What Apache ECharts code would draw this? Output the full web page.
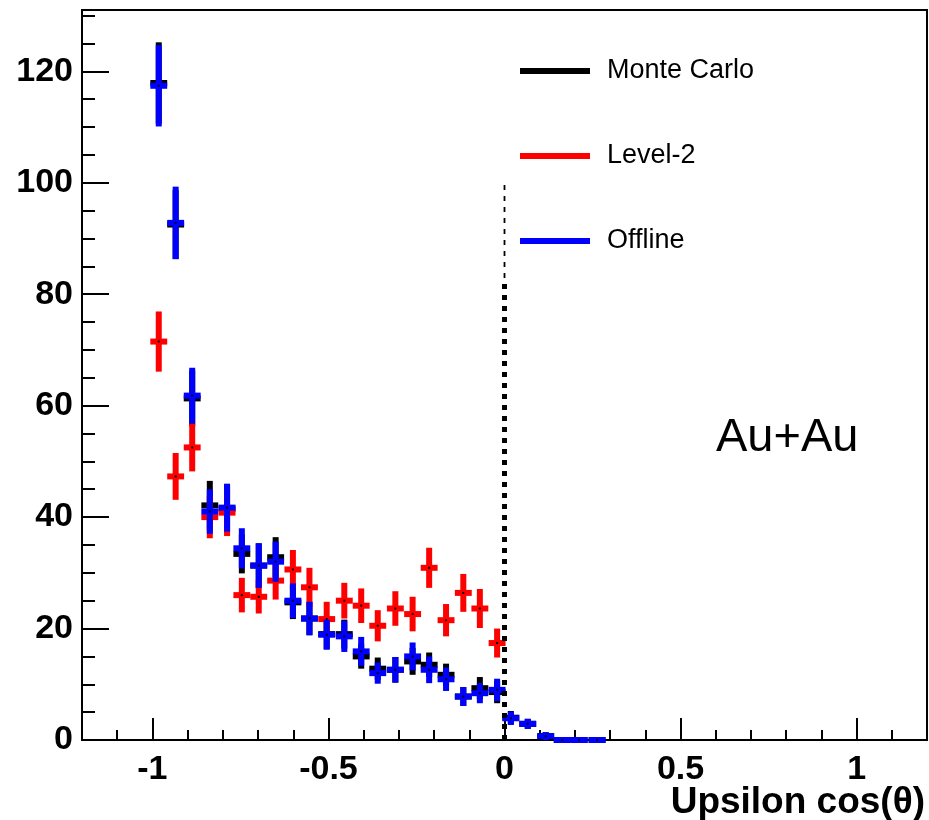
<!DOCTYPE html>
<html>
<head>
<meta charset="utf-8">
<script src="https://cdn.jsdelivr.net/npm/echarts@6/dist/echarts.min.js"></script>
<style>
html,body{margin:0;padding:0;background:#fff;}
#chart{width:929px;height:820px;}
</style>
</head>
<body>
<div id="chart"></div>
<script>
// Bin centres (Upsilon cos(theta))
const xCenters = [-0.982, -0.934, -0.887, -0.837, -0.788, -0.746, -0.698, -0.650, -0.601, -0.554,
                  -0.505, -0.455, -0.407, -0.360, -0.310, -0.261, -0.214, -0.166, -0.117, -0.070,
                  -0.021, 0.018, 0.066, 0.117, 0.164, 0.212, 0.263];

// Monte Carlo (black)
const mcValues = [117.9, 92.5, 61.3, 42.1, 41.5, 33.4, 31.3, 32.8, 24.7, 21.8,
                  19.0, 19.0, 15.0, 12.8, 12.6, 14.1, 13.5, 11.7, 7.8, 9.3,
                  8.6, 4.0, 2.9, 0.7, 0, 0, 0];
const mcErrors = [7.3, 6.2, 5.0, 4.4, 4.3, 3.5, 4.0, 3.6, 3.0, 3.0,
                  2.7, 2.6, 2.2, 2.0, 2.3, 2.4, 2.2, 2.0, 1.7, 2.0,
                  2.0, 1.2, 0.9, 0.7, 0, 0, 0];

// Level-2 (red)
const l2Values = [71.5, 47.3, 52.5, 40.0, 40.8, 26.0, 25.7, 28.6, 30.6, 27.4,
                  21.7, 25.0, 24.1, 20.5, 23.6, 22.6, 30.9, 21.5, 26.4, 23.6, 17.4];
const l2Errors = [5.4, 4.2, 4.3, 3.8, 4.2, 3.1, 3.0, 3.4, 3.5, 3.5,
                  3.1, 3.2, 3.1, 2.8, 3.1, 3.1, 3.6, 2.9, 3.4, 3.5, 2.6];

// Offline (blue)
const offValues = [117.4, 92.8, 61.8, 41.0, 41.7, 34.4, 31.3, 32.0, 25.0, 21.8,
                   18.9, 18.6, 15.9, 12.0, 12.6, 15.0, 12.6, 10.9, 7.8, 8.4,
                   9.0, 3.9, 2.9, 0.7, 0, 0, 0];
const offErrors = [7.3, 6.5, 5.0, 4.0, 4.3, 3.6, 4.0, 3.6, 3.1, 3.0,
                   2.7, 2.8, 2.6, 1.9, 2.3, 2.5, 2.4, 2.1, 1.7, 1.8,
                   2.0, 1.2, 0.9, 0.7, 0, 0, 0];

// Vertical reference line at cos(theta) = 0
const cutX = 0;
const cutThinTop = 100;
const cutThickTop = 82;

// Axis ticks
const xMajorTicks = [-1, -0.5, 0, 0.5, 1];
const xMinorTicks = [-1.1, -0.9, -0.8, -0.7, -0.6, -0.4, -0.3, -0.2, -0.1,
                     0.1, 0.2, 0.3, 0.4, 0.6, 0.7, 0.8, 0.9, 1.1];
const yMajorTicks = [0, 20, 40, 60, 80, 100, 120];
const yMinorTicks = [5, 10, 15, 25, 30, 35, 45, 50, 55, 65, 70, 75, 85, 90, 95,
                     105, 110, 115, 125, 130];

const seriesNames = ['Monte Carlo', 'Level-2', 'Offline'];
const seriesColors = ['#000000', '#ff0000', '#0000ff'];

const binHalfWidth = 0.024;
const FONT = 'Liberation Sans, Arial, Helvetica, sans-serif';

function toData(vals, errs) {
  return vals.map((v, i) => [xCenters[i], v, errs[i]]);
}

function makeRender(color) {
  return function (params, api) {
    const x = api.value(0), y = api.value(1), e = api.value(2);
    const c = api.coord([x, y]);
    const top = api.coord([x, y + e]);
    const bot = api.coord([x, Math.max(0, y - e)]);
    const l = api.coord([x - binHalfWidth, y]);
    const r = api.coord([x + binHalfWidth, y]);
    const children = [];
    if (e > 0) {
      children.push({type: 'line', shape: {x1: c[0], y1: top[1], x2: c[0], y2: bot[1]},
        style: {stroke: color, lineWidth: 6, lineCap: 'butt'}});
    }
    children.push({type: 'line', shape: {x1: l[0], y1: c[1], x2: r[0], y2: c[1]},
      style: {stroke: color, lineWidth: 6, lineCap: 'butt'}});
    children.push({type: 'rect', shape: {x: c[0] - 1, y: c[1] - 1, width: 2, height: 2},
      style: {fill: '#000'}});
    return {type: 'group', children: children};
  };
}

const chart = echarts.init(document.getElementById('chart'), null, {renderer: 'canvas'});

const option = {
  backgroundColor: '#fff',
  animation: false,
  title: {
    text: 'Au+Au', left: 716, top: 415, padding: 0,
    textStyle: {fontSize: 47, fontWeight: 'normal', color: '#000', fontFamily: FONT}
  },
  legend: {
    orient: 'vertical', left: 520, top: 56, padding: 0,
    itemWidth: 70, itemHeight: 6, itemGap: 55, icon: 'rect',
    textStyle: {fontSize: 27, color: '#000', fontFamily: FONT, lineHeight: 30, padding: [0, 0, 0, 12]},
    data: seriesNames.map((n, i) => ({name: n, icon: 'rect', itemStyle: {color: seriesColors[i]}})),
    selectedMode: false
  },
  grid: {
    left: 82, right: 2, top: 10, bottom: 80,
    outerBoundsMode: 'none', containLabel: false,
    show: true, borderColor: '#000', borderWidth: 2, backgroundColor: 'transparent'
  },
  xAxis: [{
    type: 'value', min: -1.2, max: 1.2, position: 'bottom',
    axisLine: {show: true, onZero: false, lineStyle: {color: '#000', width: 2}},
    axisTick: {show: true, inside: true, length: 22, lineStyle: {color: '#000', width: 2}, customValues: xMajorTicks},
    axisLabel: {show: true, customValues: xMajorTicks, fontSize: 34, fontWeight: 'bold', color: '#000',
      fontFamily: FONT, margin: 13},
    splitLine: {show: false},
    name: 'Upsilon cos(\u03B8)', nameLocation: 'end', nameGap: 0, nameMoveOverlap: false,
    nameTextStyle: {fontSize: 37, fontWeight: 'bold', color: '#000', fontFamily: FONT,
      align: 'right', verticalAlign: 'top', padding: [44, 2, 0, 0]}
  }, {
    type: 'value', min: -1.2, max: 1.2, position: 'bottom',
    axisLine: {show: false, onZero: false},
    axisTick: {show: true, inside: true, length: 10, lineStyle: {color: '#000', width: 2}, customValues: xMinorTicks},
    axisLabel: {show: false},
    splitLine: {show: false}
  }],
  yAxis: [{
    type: 'value', min: 0, max: 131, position: 'left',
    axisLine: {show: true, onZero: false, lineStyle: {color: '#000', width: 2}},
    axisTick: {show: true, inside: true, length: 27, lineStyle: {color: '#000', width: 2}, customValues: yMajorTicks},
    axisLabel: {show: true, customValues: yMajorTicks, fontSize: 34, fontWeight: 'bold', color: '#000',
      fontFamily: FONT, margin: 9},
    splitLine: {show: false}
  }, {
    type: 'value', min: 0, max: 131, position: 'left',
    axisLine: {show: false, onZero: false},
    axisTick: {show: true, inside: true, length: 13, lineStyle: {color: '#000', width: 2}, customValues: yMinorTicks},
    axisLabel: {show: false},
    splitLine: {show: false}
  }],
  series: [
    {
      name: seriesNames[0], type: 'custom', xAxisIndex: 0, yAxisIndex: 0,
      itemStyle: {color: seriesColors[0]}, renderItem: makeRender(seriesColors[0]),
      encode: {x: 0, y: 1}, data: toData(mcValues, mcErrors), z: 2, clip: false
    },
    {
      name: seriesNames[1], type: 'custom', xAxisIndex: 0, yAxisIndex: 0,
      itemStyle: {color: seriesColors[1]}, renderItem: makeRender(seriesColors[1]),
      encode: {x: 0, y: 1}, data: toData(l2Values, l2Errors), z: 3, clip: false
    },
    {
      name: seriesNames[2], type: 'custom', xAxisIndex: 0, yAxisIndex: 0,
      itemStyle: {color: seriesColors[2]}, renderItem: makeRender(seriesColors[2]),
      encode: {x: 0, y: 1}, data: toData(offValues, offErrors), z: 4, clip: false
    },
    {
      name: 'cutThin', type: 'line', xAxisIndex: 0, yAxisIndex: 0, symbol: 'none', silent: true,
      data: [[cutX, 0], [cutX, cutThinTop]],
      lineStyle: {color: '#000', width: 1.8, type: [5, 6]}, z: 5
    },
    {
      name: 'cutThick', type: 'line', xAxisIndex: 0, yAxisIndex: 0, symbol: 'none', silent: true,
      data: [[cutX, 0], [cutX, cutThickTop]],
      lineStyle: {color: '#000', width: 5, type: [5, 6]}, z: 5
    }
  ]
};

chart.setOption(option);
</script>
</body>
</html>
